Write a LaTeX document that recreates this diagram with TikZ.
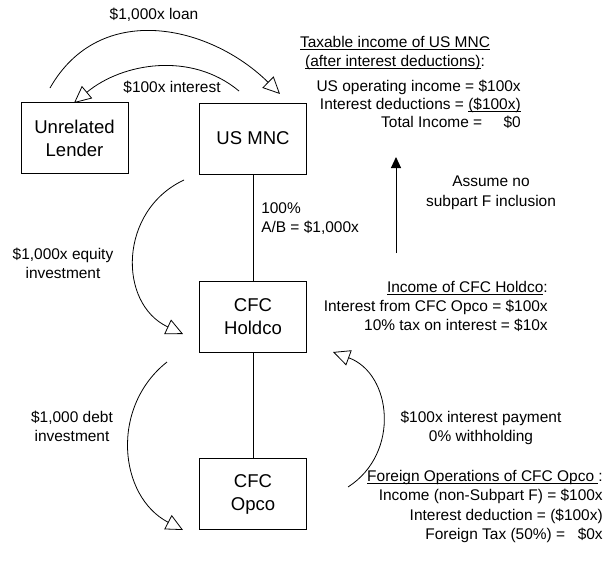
\documentclass[tikz,border=0pt]{standalone}
\usepackage{fontspec}
\setmainfont{Liberation Sans}
\usetikzlibrary{arrows.meta}
\newcommand\undr[1]{\underline{\smash{#1}}}

\begin{document}
\begin{tikzpicture}[
            x=.75pt, y=-.75pt,
            entity/.style={draw, line width=.75pt, minimum width=80.25pt,
                minimum height=53.25pt, inner sep=0pt, align=center,
                font=\fontsize{13.9}{17.3}\selectfont},
            lbl/.style={inner sep=0pt, font=\fontsize{11.6}{14.3}\selectfont},
            flow/.style={line width=.6pt, -{Triangle[open, length=12.75pt, width=12pt]}},
            owns/.style={line width=.75pt},
        ]
            \useasboundingbox (0,0) rectangle (605,567);

            %% the four entities and the ownership chain
            \node[entity] (lender) at (74.5,138) {Unrelated\\Lender};
            \node[entity] (mnc) at (253,138.5) {US MNC};
            \node[entity] (holdco) at (253,316.5) {CFC\\Holdco};
            \node[entity] (opco) at (253,494) {CFC\\Opco};
            \draw[owns] (mnc) -- (holdco);
            \draw[owns] (holdco) -- (opco);

            %% money flows
            \coordinate (loanA) at (50,88);
            \coordinate (loanB) at (280,94);
            \coordinate (intA) at (239,91);
            \coordinate (intB) at (74,103);
            \coordinate (eqA) at (184,180);
            \coordinate (eqB) at (183,334);
            \coordinate (debtA) at (167,362);
            \coordinate (debtB) at (183,530);
            \coordinate (payA) at (348,487);
            \coordinate (payB) at (333,352);
            \draw[flow] (loanA) .. controls (100,0) and (210,25) .. (loanB);
            \draw[flow] (intA) .. controls (191,51) and (122,63) .. (intB);
            \draw[flow] (eqA) .. controls (118.6,210.5) and (117.6,303.5) .. (eqB);
            \draw[flow] (debtA) .. controls (110,407) and (118.5,496.4) .. (debtB);
            \draw[flow] (payA) .. controls (400.7,453.1) and (391.8,373.6) .. (payB);

            %% no inclusion going up
            \coordinate (upA) at (396,253);
            \coordinate (upB) at (396,157);
            \draw[line width=.75pt, -{Triangle[length=8.25pt, width=7.5pt]}] (upA) -- (upB);

            %% labels
            \node[lbl] (loanlbl) at (154,15) {\$1,000x loan};
            \node[lbl] (intlbl) at (172,87) {\$100x interest};
            \node[lbl, align=center] (taxhead) at (395,58)
                {\undr{Taxable income of US MNC}\\\undr{(after interest deductions)}:};
            \node[lbl, align=right, anchor=east, font=\fontsize{11.6}{13.5}\selectfont]
                (taxbody) at (521,104) {US operating income = \$100x\\
                Interest deductions = \undr{(\$100x)}\\
                Total Income =\hspace{16pt}\$0};
            \node[lbl, align=center, font=\fontsize{11.6}{15}\selectfont]
                (assume) at (491,193) {Assume no\\subpart F inclusion};
            \node[lbl, align=left, anchor=west] (ablbl) at (261,219) {100\%\\A/B = \$1,000x};
            \node[lbl, align=center] (eqlbl) at (63,263) {\$1,000x equity\\investment};
            \node[lbl, align=right, anchor=east] (holdinc) at (548,308)
                {\undr{Income of CFC Holdco}:\\
                Interest from CFC Opco = \$100x\\
                10\% tax on interest = \$10x};
            \node[lbl, align=center] (debtlbl) at (72,426) {\$1,000 debt\\investment};
            \node[lbl, align=center] (paylbl) at (481,428) {\$100x interest payment\\0\% withholding};
            \node[lbl, align=right, anchor=east] (opsinc) at (603,508)
                {\undr{Foreign Operations of CFC Opco }:\\
                Income (non-Subpart F) = \$100x\\
                Interest deduction = (\$100x)\\
                Foreign Tax (50\%) =\hspace{9.5pt}\$0x};
        \end{tikzpicture}
\end{document}
